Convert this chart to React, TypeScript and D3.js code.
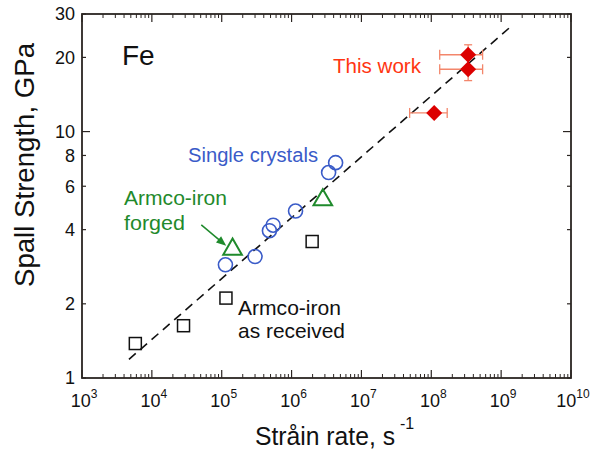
import React from "react";
import * as d3 from "d3";

// strain rate (1/s) and spall strength (GPa)
const squareRate = [5.8e3, 2.84e4, 1.15e5, 1.97e6];
const squareSpall = [1.38, 1.63, 2.11, 3.58];

const circleRate = [1.13e5, 3.0e5, 4.82e5, 5.45e5, 1.14e6, 3.39e6, 4.27e6];
const circleSpall = [2.88, 3.11, 3.96, 4.17, 4.76, 6.82, 7.48];

const triangleRate = [1.43e5, 2.8e6];
const triangleSpall = [3.33, 5.28];

const diamondRate = [1.1e8, 3.37e8, 3.37e8];
const diamondSpall = [11.9, 17.9, 20.5];
const diamondRateLow = [4.9e7, 1.32e8, 1.32e8];
const diamondRateHigh = [1.69e8, 5.43e8, 5.43e8];
const diamondSpallLow = [11.9, 16.1, 20.5];
const diamondSpallHigh = [11.9, 17.9, 22.5];

const fitRate = [4.7e3, 1.3e9];
const fitSpall = [1.19, 26.3];

const arrowRate = [5.1e4, 1.16e5];
const arrowSpall = [4.18, 3.44];

const xDecades = [3, 4, 5, 6, 7, 8, 9, 10];
const yTicks = [1, 2, 4, 6, 8, 10, 20, 30];
const yMajor = [10];

const W = 592;
const H = 452;
const margin = { left: 82, right: 21, top: 14, bottom: 74 };
const font = "'Liberation Sans', Arial, Helvetica, sans-serif";
const frameColor = "#2b2522";
const blue = "#3a5bc8";
const green = "#1f8a2c";
const red = "#dc0000";
const errColor = "#f3866b";

export default function App() {
  const x = d3
    .scaleLog()
    .domain([1e3, 1e10])
    .range([margin.left, W - margin.right]);
  const y = d3
    .scaleLog()
    .domain([1, 30])
    .range([H - margin.bottom, margin.top]);

  const [x0, x1] = x.range();
  const [y0, y1] = y.range();

  // minor ticks on the x axis: 2..9 in each decade
  const xMinor: number[] = [];
  for (let d = 3; d < 10; d++) {
    for (let k = 2; k <= 9; k++) xMinor.push(k * Math.pow(10, d));
  }

  const fitLine = d3
    .line<number>()
    .x((_, i) => x(fitRate[i]))
    .y((v) => y(v));

  const tri = d3.symbol(d3.symbolTriangle, 150)();
  const dia = (cx: number, cy: number, r: number) =>
    `M${cx},${cy - r}L${cx + r},${cy}L${cx},${cy + r}L${cx - r},${cy}Z`;

  const ax = [x(arrowRate[0]), y(arrowSpall[0]), x(arrowRate[1]), y(arrowSpall[1])];
  const ang = Math.atan2(ax[3] - ax[1], ax[2] - ax[0]);
  const head = (len: number, w: number) => {
    const bx = ax[2] - len * Math.cos(ang);
    const by = ax[3] - len * Math.sin(ang);
    const px = -Math.sin(ang) * w;
    const py = Math.cos(ang) * w;
    return `M${ax[2]},${ax[3]}L${bx + px},${by + py}L${bx - px},${by - py}Z`;
  };

  return (
    <svg
      width={W}
      height={H}
      style={{ position: "absolute", left: 0, top: 0, background: "#fff" }}
      fontFamily={font}
    >
      {/* x ticks, bottom and top, drawn inward */}
      {xMinor.map((v, i) => (
        <g key={"xm" + i} stroke={frameColor} strokeWidth={1}>
          <line x1={x(v)} x2={x(v)} y1={y0} y2={y0 - 4} />
          <line x1={x(v)} x2={x(v)} y1={y1} y2={y1 + 4} />
        </g>
      ))}
      {xDecades.map((d) => (
        <g key={"xM" + d} stroke={frameColor} strokeWidth={1.2}>
          <line x1={x(Math.pow(10, d))} x2={x(Math.pow(10, d))} y1={y0} y2={y0 - 8} />
          <line x1={x(Math.pow(10, d))} x2={x(Math.pow(10, d))} y1={y1} y2={y1 + 8} />
        </g>
      ))}
      {xDecades.map((d) => (
        <text
          key={"xl" + d}
          x={x(Math.pow(10, d)) + 2}
          y={407}
          fontSize={18}
          textAnchor="middle"
          fill="#111"
        >
          10
          <tspan fontSize={12} dy={-9}>
            {d}
          </tspan>
        </text>
      ))}

      {/* y ticks, left and right, drawn inward */}
      {yTicks.map((v) => {
        const len = yMajor.includes(v) ? 8 : 4;
        return (
          <g key={"yt" + v} stroke={frameColor} strokeWidth={1.2}>
            <line x1={x0} x2={x0 + len} y1={y(v)} y2={y(v)} />
            <line x1={x1} x2={x1 - len} y1={y(v)} y2={y(v)} />
          </g>
        );
      })}
      {yTicks.map((v) => (
        <text
          key={"yl" + v}
          x={75}
          y={y(v)}
          dy="0.36em"
          fontSize={18}
          textAnchor="end"
          fill="#111"
        >
          {v}
        </text>
      ))}

      {/* frame */}
      <rect
        x={x0}
        y={y1}
        width={x1 - x0}
        height={y0 - y1}
        fill="none"
        stroke={frameColor}
        strokeWidth={1.8}
      />

      {/* fit line */}
      <path
        d={fitLine(fitSpall) ?? ""}
        fill="none"
        stroke="#111"
        strokeWidth={1.6}
        strokeDasharray="9,6"
      />

      {/* Armco-iron as received */}
      {squareRate.map((r, i) => (
        <rect
          key={"sq" + i}
          x={x(r) - 6}
          y={y(squareSpall[i]) - 6}
          width={12}
          height={12}
          fill="none"
          stroke="#111"
          strokeWidth={1.5}
        />
      ))}

      {/* single crystals */}
      {circleRate.map((r, i) => (
        <circle
          key={"c" + i}
          cx={x(r)}
          cy={y(circleSpall[i])}
          r={7}
          fill="none"
          stroke={blue}
          strokeWidth={1.6}
        />
      ))}

      {/* Armco-iron forged */}
      {triangleRate.map((r, i) => (
        <path
          key={"t" + i}
          d={tri ?? ""}
          transform={`translate(${x(r)},${y(triangleSpall[i])})`}
          fill="none"
          stroke={green}
          strokeWidth={2}
        />
      ))}

      {/* this work, error bars then markers */}
      {diamondRate.map((r, i) => {
        const cy = y(diamondSpall[i]);
        const xa = x(diamondRateLow[i]);
        const xb = x(diamondRateHigh[i]);
        const hasV = diamondSpallLow[i] < diamondSpallHigh[i];
        const ya = y(diamondSpallLow[i]);
        const yb = y(diamondSpallHigh[i]);
        return (
          <g key={"eb" + i} stroke={errColor} strokeWidth={1.3}>
            <line x1={xa} x2={xb} y1={cy} y2={cy} />
            <line x1={xa} x2={xa} y1={cy - 5} y2={cy + 5} />
            <line x1={xb} x2={xb} y1={cy - 5} y2={cy + 5} />
            {hasV && (
              <>
                <line x1={x(r)} x2={x(r)} y1={ya} y2={yb} />
                <line x1={x(r) - 4} x2={x(r) + 4} y1={ya} y2={ya} />
                <line x1={x(r) - 4} x2={x(r) + 4} y1={yb} y2={yb} />
              </>
            )}
          </g>
        );
      })}
      {diamondRate.map((r, i) => (
        <path key={"d" + i} d={dia(x(r), y(diamondSpall[i]), 8)} fill={red} />
      ))}

      {/* arrow to the forged point */}
      <line
        x1={ax[0]}
        y1={ax[1]}
        x2={ax[2] - 8 * Math.cos(ang)}
        y2={ax[3] - 8 * Math.sin(ang)}
        stroke={green}
        strokeWidth={1.5}
      />
      <path d={head(10, 4)} fill={green} />

      {/* annotations */}
      <text x={122} y={65} fontSize={28} fill="#111">
        Fe
      </text>
      <text x={333} y={73} fontSize={21} fill="#ff3512" textLength={88} lengthAdjust="spacingAndGlyphs">
        This work
      </text>
      <text x={188} y={162} fontSize={20} fill={blue} textLength={130} lengthAdjust="spacingAndGlyphs">
        Single crystals
      </text>
      <text x={124} y={205} fontSize={21} fill={green} textLength={103} lengthAdjust="spacingAndGlyphs">
        Armco-iron
      </text>
      <text x={124} y={230} fontSize={21} fill={green} textLength={61} lengthAdjust="spacingAndGlyphs">
        forged
      </text>
      <text x={238} y={315} fontSize={21} fill="#111" textLength={103} lengthAdjust="spacingAndGlyphs">
        Armco-iron
      </text>
      <text x={238} y={338} fontSize={21} fill="#111" textLength={107} lengthAdjust="spacingAndGlyphs">
        as received
      </text>

      {/* axis titles */}
      <text
        transform={`translate(34,165) rotate(-90)`}
        fontSize={27}
        textAnchor="middle"
        fill="#111"
        textLength={244}
        lengthAdjust="spacingAndGlyphs"
      >
        Spall Strength, GPa
      </text>
      <text
        x={255}
        y={445}
        fontSize={25}
        fill="#111"
        textLength={140}
        lengthAdjust="spacingAndGlyphs"
      >
        Stråin rate, s
      </text>
      <text x={400} y={429} fontSize={16} fill="#111">
        -1
      </text>
    </svg>
  );
}
